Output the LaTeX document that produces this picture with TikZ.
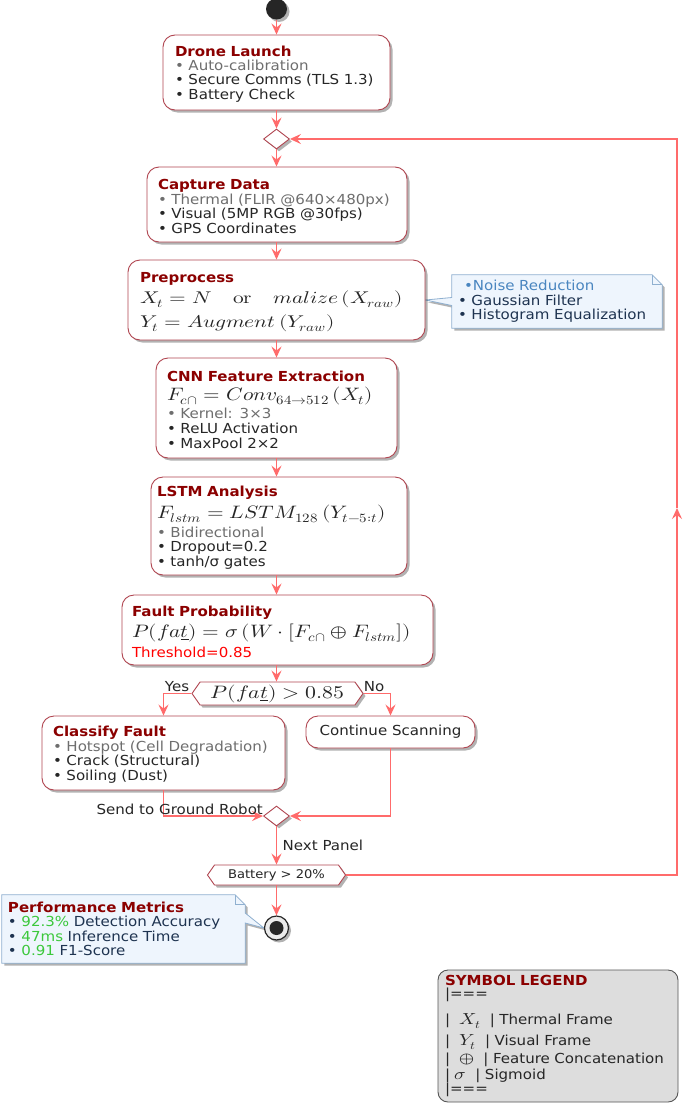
\documentclass[tikz,border=0pt]{standalone}
\usepackage{fontspec}
\usepackage{unicode-math}
\setmainfont{DejaVu Sans}[FakeStretch=1.09]
\setmathfont{latinmodern-math.otf}
\usepackage{graphicx}
\usetikzlibrary{shapes.geometric,shapes.symbols,arrows.meta,shadows,calc,backgrounds}
\definecolor{arrowc}{HTML}{FF6B6B}
\definecolor{boxborder}{HTML}{B04550}
\definecolor{titlec}{HTML}{8B0000}
\definecolor{graytxt}{HTML}{6E6E6E}
\definecolor{darktxt}{HTML}{262626}
\definecolor{notefill}{HTML}{EEF5FD}
\definecolor{noteborder}{HTML}{8FB0D0}
\definecolor{notetxt}{HTML}{1E3350}
\definecolor{noteblue}{HTML}{4A86C0}
\definecolor{greentxt}{HTML}{3CC83C}
\definecolor{legendfill}{HTML}{DDDDDD}
\definecolor{legendborder}{HTML}{555555}
\newcommand\btitle[1]{{\bfseries\color{titlec}\rule{0pt}{14pt}#1}}
\newcommand\ntitle[1]{{\bfseries\color{titlec}#1}}
\newcommand\mth[3]{\scalebox{#1}[1]{\fontsize{#2}{#2}\selectfont$#3$}}
\begin{document}
\begin{tikzpicture}[x=1pt,y=-1pt,
  every node/.style={font=\fontsize{13.8}{14.4}\selectfont, text=darktxt},
  shadowed/.style={drop shadow={shadow xshift=2.5pt,shadow yshift=-2.5pt,opacity=0.3,fill=black}},
  actbox/.style={draw=boxborder, line width=0.9pt, fill=white, rounded corners=12pt, align=left, shadowed, inner ysep=2pt},
  mergebox/.style={diamond, draw=boxborder, line width=0.9pt, fill=white, minimum width=26pt, minimum height=20pt, inner sep=0pt, shadowed},
  hexa/.style={signal, signal to=west and east, signal pointer angle=110, draw=boxborder, line width=0.9pt, fill=white, inner sep=1pt, shadowed},
  flow/.style={draw=arrowc, line width=1.4pt, -{Stealth[length=11pt,width=10pt,inset=4pt]}},
  notetext/.style={align=left, text=notetxt, inner ysep=2pt},
  noteshape/.style={draw=noteborder, line width=0.8pt, fill=notefill, shadowed},
  foldline/.style={draw=noteborder, line width=0.8pt},
  legbox/.style={draw=legendborder, line width=0.9pt, fill=legendfill, rounded corners=10pt, align=left, inner ysep=2pt},
  lbl/.style={font=\fontsize{13.8}{14.4}\selectfont, inner sep=0pt}
]
\useasboundingbox (0,0) rectangle (685,1103);

% start
\node[circle, fill=black!85, minimum size=21pt, inner sep=0pt, shadowed] (start) at (276.5,9) {};

\node[actbox, minimum width=227pt, minimum height=75pt, text width=203pt, inner xsep=12pt] (launch) at (276.5,72.5)
 {\btitle{Drone Launch}\\[-1pt] {\color{graytxt}• Auto-calibration}\\ • Secure Comms (TLS 1.3)\\ • Battery Check};

\node[mergebox] (d1) at (276.5,139) {};

\node[actbox, minimum width=260pt, minimum height=75pt, text width=238pt, inner xsep=11pt] (capture) at (277,204.5)
 {\btitle{Capture Data}\\ {\color{graytxt}• Thermal (FLIR @640×480px)}\\ • Visual (5MP RGB @30fps)\\ • GPS Coordinates};

\node[actbox, minimum width=297pt, minimum height=80pt, text width=273pt, inner xsep=12pt] (pre) at (276.5,300)
 {\btitle{Preprocess}\\[4pt]
  \mth{1.26}{17}{X_t = N\quad\symup{or}\quad malize\,(X_{raw})}\\[6pt]
  \mth{1.26}{17}{Y_t = Augment\,(Y_{raw})}};

\node[actbox, minimum width=241pt, minimum height=100pt, text width=219pt, inner xsep=11pt] (cnn) at (276.5,408)
 {\btitle{CNN Feature Extraction}\\[5pt]
  \mth{1.18}{18}{F_{c\cap} = Conv_{64\rightarrow512}\,(X_t)}\\[2pt]
  {\color{graytxt}• Kernel: 3×3}\\[0.8pt] • ReLU Activation\\[0.6pt] • MaxPool 2×2};

\node[actbox, minimum width=256pt, minimum height=98pt, text width=244pt, inner xsep=6pt] (lstm) at (279,526)
 {\btitle{LSTM Analysis}\\[4pt]
  \mth{1.19}{18}{F_{lstm} = LSTM_{128}\,(Y_{t-5:t})}\\[3pt]
  {\color{graytxt}• Bidirectional}\\ • Dropout=0.2\\ • tanh/σ gates};

\node[actbox, minimum width=311pt, minimum height=70pt, text width=291pt, inner xsep=10pt] (fault) at (277.5,630)
 {\btitle{Fault Probability}\\[3pt]
  \mth{1.19}{18}{P(fa\underline{t}) = \sigma\,(W\cdot[F_{c\cap}\oplus F_{lstm}])}\\[4pt]
  {\color{red}Threshold=0.85}};

\node[hexa, minimum width=171pt, minimum height=23pt] (dec) at (277.5,693.5)
 {\mth{1.21}{18}{P(fa\underline{t}) > 0.85}};

\node[actbox, minimum width=243pt, minimum height=74pt, text width=221pt, inner xsep=11pt] (classify) at (163.5,753)
 {\btitle{Classify Fault}\\ {\color{graytxt}• Hotspot (Cell Degradation)}\\ • Crack (Structural)\\ • Soiling (Dust)};

\node[actbox, minimum width=169pt, minimum height=32pt, align=center] (cont) at (390.5,732) {Continue Scanning};

\node[mergebox] (m2) at (276.5,816) {};

\node[hexa, minimum width=138pt, minimum height=20pt, font=\fontsize{12}{13}\selectfont] (batt) at (276.5,875) {Battery > 20\%};

\node[circle, draw=black!85, line width=1.2pt, fill=black!8, minimum size=24pt, inner sep=0pt, shadowed] (end) at (276.5,928) {};
\fill[black!85] (end.center) circle[radius=7pt];

% notes
\node[notetext, minimum width=210pt, minimum height=53pt, text width=198pt, inner xsep=6pt] (pn) at (557,301.5)
 {\hspace*{6pt}{\color{noteblue}•Noise Reduction}\\ • Gaussian Filter\\ • Histogram Equalization};
\node[notetext, minimum width=243pt, minimum height=68pt, text width=231pt, inner xsep=6pt] (mn) at (123.5,929)
 {\ntitle{Performance Metrics}\\ • {\color{greentxt}92.3\%} Detection Accuracy\\ • {\color{greentxt}47ms} Inference Time\\ • {\color{greentxt}0.91} F1-Score};

\begin{pgfonlayer}{background}
\fill[white] (0,0) rectangle (685,1103);
\draw[noteshape] (pn.north west) -- ($(pn.north east)+(-10,0)$) -- ($(pn.north east)+(0,10)$) -- (pn.south east) -- (pn.south west) -- ($(pn.west)+(0,4)$) -- (pre.east) -- ($(pn.west)+(0,-4)$) -- cycle;
\draw[foldline] ($(pn.north east)+(-10,0)$) -- ($(pn.north east)+(-10,10)$) -- ($(pn.north east)+(0,10)$);
\draw[noteshape] (mn.north west) -- ($(mn.north east)+(-10,0)$) -- ($(mn.north east)+(0,10)$) -- ($(mn.east)+(0,-16)$) -- (end.west) -- ($(mn.east)+(0,-6)$) -- (mn.south east) -- (mn.south west) -- cycle;
\draw[foldline] ($(mn.north east)+(-10,0)$) -- ($(mn.north east)+(-10,10)$) -- ($(mn.north east)+(0,10)$);
\end{pgfonlayer}

% legend
\node[legbox, minimum width=240pt, minimum height=132pt, text width=226pt, inner xsep=7pt] (leg) at (558,1036)
 {\ntitle{SYMBOL LEGEND}\\[-1pt]
  |===\\[11pt]
  |\ \ \mth{1.2}{16}{X_t}\ \ | Thermal Frame\\[5pt]
  |\ \ \mth{1.2}{16}{Y_t}\ \ | Visual Frame\\[3pt]
  |\ \ \mth{1.2}{16}{\oplus}\ \ | Feature Concatenation\\[1pt]
  |\ \mth{1.2}{16}{\sigma}\ \ | Sigmoid\\[0pt]
  |===};

% connectors
\draw[flow] (start.south) -- (start.south |- launch.north);
\draw[flow] (launch.south) -- (launch.south |- d1.north);
\draw[flow] (d1.south) -- (d1.south |- capture.north);
\draw[flow] (capture.south -| d1.south) -- (d1.south |- pre.north);
\draw[flow] (pre.south) -- (pre.south |- cnn.north);
\draw[flow] (cnn.south) -- (cnn.south |- lstm.north);
\draw[flow] (lstm.south -| cnn.south) -- (cnn.south |- fault.north);
\draw[flow] (fault.south -| cnn.south) -- (cnn.south |- dec.north);
\draw[flow] (dec.west) -| (classify.north);
\draw[flow] (dec.east) -| (cont.north);
\draw[flow] (classify.south) |- (m2.west);
\draw[flow] (cont.south) |- (m2.east);
\draw[flow] (m2.south) -- (m2.south |- batt.north);
\draw[flow] (batt.south) -- (batt.south |- end.north);
\coordinate (rmid) at (677,508);
\draw[flow] (batt.east) -| (rmid);
\draw[flow] (rmid) |- (d1.east);

% labels
\node[lbl, anchor=base east] at ($(dec.west)+(-2,-2)$) {Yes};
\node[lbl, anchor=base west] at ($(dec.east)+(0,-2)$) {No};
\node[lbl, anchor=base east] at ($(m2.west)+(0,-2)$) {Send to Ground Robot};
\node[lbl, anchor=west] at ($(m2.south)!0.5!(batt.north)+(6,0)$) {Next Panel};
\end{tikzpicture}
\end{document}
